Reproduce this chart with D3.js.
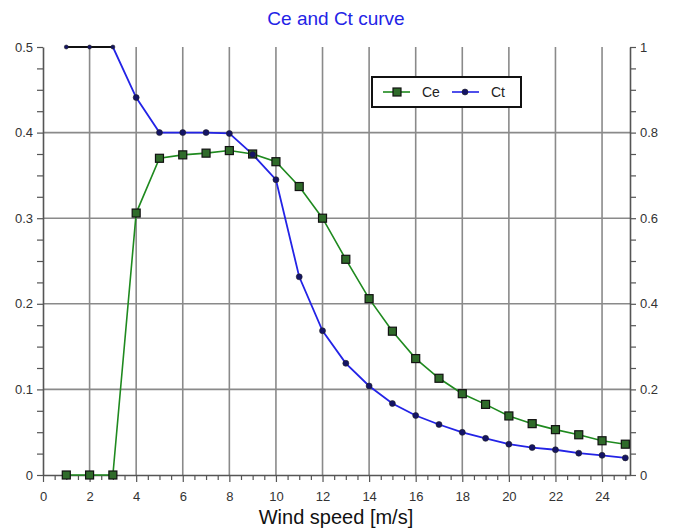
<!DOCTYPE html>
<html>
<head>
<meta charset="utf-8">
<script src="https://cdn.jsdelivr.net/npm/d3@7"></script>
<style>
  body { margin: 0; background: #fff; }
  text { font-family: "Liberation Sans", Arial, sans-serif; }
</style>
</head>
<body>
<div id="chart"></div>
<script>
// data
const windSpeed = [1, 2, 3, 4, 5, 6, 7, 8, 9, 10, 11, 12, 13, 14, 15, 16, 17, 18, 19, 20, 21, 22, 23, 24, 25]
const ceValues = [0, 0, 0, 0.306, 0.370, 0.374, 0.376, 0.379, 0.375, 0.366, 0.337, 0.300, 0.252, 0.206,
  0.168, 0.136, 0.113, 0.095, 0.0825, 0.069, 0.060, 0.053, 0.047, 0.040, 0.036]
const ctValues = [1, 1, 1, 0.882, 0.8, 0.8, 0.8, 0.798, 0.749, 0.69, 0.463, 0.337, 0.261, 0.208,
  0.167, 0.139, 0.118, 0.0996, 0.0856, 0.072, 0.064, 0.059, 0.051, 0.046, 0.040]
const xTicks = [0, 2, 4, 6, 8, 10, 12, 14, 16, 18, 20, 22, 24]
const leftTicks = [0, 0.1, 0.2, 0.3, 0.4, 0.5]
const rightTicks = [0, 0.2, 0.4, 0.6, 0.8, 1]
const seriesNames = ['Ce', 'Ct']

const width = 676
const height = 528
const margin = { top: 47, right: 46, bottom: 53, left: 43 }

const svg = d3.select('#chart').append('svg')
  .attr('width', width)
  .attr('height', height)

const x = d3.scaleLinear().domain([0, 25.2]).range([margin.left, width - margin.right])
const yL = d3.scaleLinear().domain([0, 0.5]).range([height - margin.bottom, margin.top])
const yR = d3.scaleLinear().domain([0, 1]).range([height - margin.bottom, margin.top])

const gridColor = '#8a8a8a'
const axisColor = '#555'

// grid lines
const grid = svg.append('g')
grid.selectAll('line.v').data(xTicks.filter(d => d > 0))
  .enter().append('line')
  .attr('x1', d => x(d)).attr('x2', d => x(d))
  .attr('y1', yL(0)).attr('y2', yL(0.5))
  .attr('stroke', gridColor).attr('stroke-width', 1.6)
grid.selectAll('line.h').data(leftTicks.filter(d => d > 0 && d < 0.5))
  .enter().append('line')
  .attr('x1', x(0)).attr('x2', x(25.2))
  .attr('y1', d => yL(d)).attr('y2', d => yL(d))
  .attr('stroke', gridColor).attr('stroke-width', 1.6)

// axes
function styleAxis(g) {
  g.select('.domain').attr('stroke', axisColor).attr('stroke-width', 1.6)
  g.selectAll('.tick line').attr('stroke', axisColor).attr('stroke-width', 1.2)
  g.selectAll('.tick text').attr('fill', '#333').style('font-size', '13px')
}

const bottomAxis = svg.append('g')
  .attr('transform', `translate(0,${yL(0)})`)
  .call(d3.axisBottom(x).tickValues(d3.range(0, 25.01, 0.5)).tickSize(5).tickSizeOuter(0)
    .tickFormat(d => xTicks.includes(d) ? d : ''))
styleAxis(bottomAxis)
bottomAxis.selectAll('.tick text').attr('y', 17)
bottomAxis.selectAll('.tick line').attr('y2', d => xTicks.includes(d) ? 7 : 5)

const leftAxis = svg.append('g')
  .attr('transform', `translate(${x(0)},0)`)
  .call(d3.axisLeft(yL).tickValues(d3.range(0, 0.501, 0.025)).tickSize(6).tickSizeOuter(0)
    .tickFormat(d => {
      const r = Math.round(d * 1000) / 1000
      return leftTicks.some(t => Math.abs(t - r) < 1e-6) ? d3.format('~g')(r) : ''
    }))
styleAxis(leftAxis)
leftAxis.selectAll('.tick line').attr('x2', -6)
leftAxis.selectAll('.tick text').attr('x', -10)

const rightAxis = svg.append('g')
  .attr('transform', `translate(${x(25.2)},0)`)
  .call(d3.axisRight(yR).tickValues(d3.range(0, 1.001, 0.05)).tickSize(6).tickSizeOuter(0)
    .tickFormat(d => {
      const r = Math.round(d * 1000) / 1000
      return rightTicks.some(t => Math.abs(t - r) < 1e-6) ? d3.format('~g')(r) : ''
    }))
styleAxis(rightAxis)
rightAxis.selectAll('.tick text').attr('x', 10)

// Ce series (left axis)
const ceLine = d3.line()
  .x((d, i) => x(windSpeed[i]))
  .y(d => yL(d))
svg.append('path')
  .datum(ceValues)
  .attr('d', ceLine)
  .attr('fill', 'none')
  .attr('stroke', '#1f8a1f')
  .attr('stroke-width', 1.6)

// Ct series (right axis)
const ctLine = d3.line()
  .x((d, i) => x(windSpeed[i]))
  .y(d => yR(d))
svg.append('path')
  .datum(ctValues)
  .attr('d', ctLine)
  .attr('fill', 'none')
  .attr('stroke', '#2323e6')
  .attr('stroke-width', 1.8)

// plateau at the top edge shows dark
const plateau = ctValues.map((d, i) => [windSpeed[i], d]).filter(d => d[1] >= 1)
svg.append('path')
  .datum(plateau)
  .attr('d', d3.line().x(d => x(d[0])).y(d => yR(d[1])))
  .attr('fill', 'none')
  .attr('stroke', '#111')
  .attr('stroke-width', 1.8)

// markers
svg.append('g').selectAll('rect')
  .data(ceValues)
  .enter().append('rect')
  .attr('x', (d, i) => x(windSpeed[i]) - 4)
  .attr('y', d => yL(d) - 4)
  .attr('width', 8).attr('height', 8)
  .attr('fill', '#2f6b2a')
  .attr('stroke', '#111')
  .attr('stroke-width', 1.2)

svg.append('g').selectAll('circle')
  .data(ctValues)
  .enter().append('circle')
  .attr('cx', (d, i) => x(windSpeed[i]))
  .attr('cy', d => yR(d))
  .attr('r', d => d >= 1 ? 2 : 3)
  .attr('fill', '#141466')
  .attr('stroke', '#222')
  .attr('stroke-width', 0.6)

// legend
const legend = svg.append('g').attr('transform', 'translate(372,77)')
legend.append('rect')
  .attr('width', 149).attr('height', 30)
  .attr('fill', '#fff').attr('stroke', '#111').attr('stroke-width', 2)
const legendColors = ['#1f8a1f', '#2323e6']
seriesNames.forEach((name, i) => {
  const lx = 11 + i * 69
  legend.append('line')
    .attr('x1', lx).attr('x2', lx + 27).attr('y1', 15).attr('y2', 15)
    .attr('stroke', legendColors[i]).attr('stroke-width', 1.6)
  if (i === 0) {
    legend.append('rect').attr('x', lx + 10).attr('y', 11).attr('width', 8).attr('height', 8)
      .attr('fill', '#2f6b2a').attr('stroke', '#111').attr('stroke-width', 1.2)
  } else {
    legend.append('circle').attr('cx', lx + 13).attr('cy', 15).attr('r', 3)
      .attr('fill', '#141466').attr('stroke', '#222').attr('stroke-width', 0.6)
  }
  legend.append('text')
    .attr('x', lx + 39).attr('y', 20)
    .style('font-size', '14px').attr('fill', '#222')
    .text(name)
})

// title and axis label
svg.append('text')
  .attr('x', 336).attr('y', 25)
  .attr('text-anchor', 'middle')
  .style('font-size', '19px')
  .attr('fill', '#2323e6')
  .text('Ce and Ct curve')

svg.append('text')
  .attr('x', 336).attr('y', 524)
  .attr('text-anchor', 'middle')
  .style('font-size', '20px')
  .attr('fill', '#111')
  .text('Wind speed [m/s]')
</script>
</body>
</html>
